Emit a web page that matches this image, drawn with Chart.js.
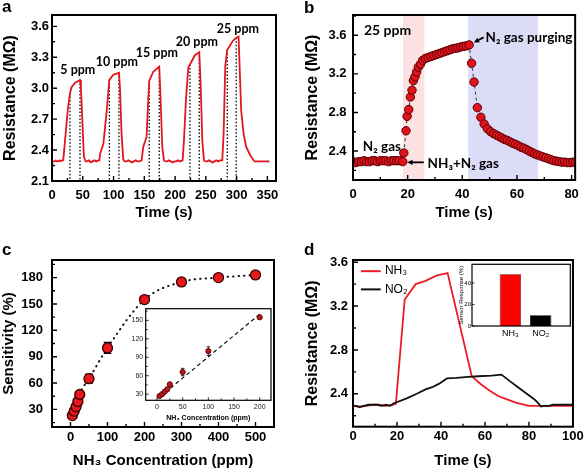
<!DOCTYPE html>
<html>
<head>
<meta charset="utf-8">
<script src="https://cdn.jsdelivr.net/npm/chart.js@4.4.0/dist/chart.umd.min.js"></script>
<style>
body { margin: 0; background: #fff; }
#fig { position: relative; width: 586px; height: 472px; overflow: hidden; background: #fff; }
#fig canvas { position: absolute; }
.letter { position: absolute; font: bold 17px 'Liberation Sans', Arial, sans-serif; line-height: 17px; }
</style>
</head>
<body>
<div id="fig">
  <canvas id="chart-a" width="293" height="236" style="left:0;top:0"></canvas>
  <canvas id="chart-b" width="293" height="236" style="left:293px;top:0"></canvas>
  <canvas id="chart-c" width="293" height="236" style="left:0;top:236px"></canvas>
  <canvas id="chart-d" width="293" height="236" style="left:293px;top:236px"></canvas>
  <canvas id="chart-c-inset" width="158" height="126" style="left:118px;top:300px"></canvas>
  <canvas id="chart-d-inset" width="120" height="88" style="left:455px;top:258px"></canvas>
  <div class="letter" style="left:2px;top:-2px">a</div>
  <div class="letter" style="left:304px;top:-1px">b</div>
  <div class="letter" style="left:2px;top:241px">c</div>
  <div class="letter" style="left:304px;top:241px">d</div>
</div>
<script>
// ---- panel a : response to 5-25 ppm NH3
const aTime = [0, 2, 4, 6, 8, 10, 12, 14, 16, 18,
  18.4, 22.2, 25.4, 29.2, 31.8, 37.2, 45.5, 47, 49, 51.8, 54.5,
  57, 60, 63, 66, 69, 72, 75, 77,
  78, 83.5, 88.9, 93.2, 99.7, 108.8, 110.4, 113, 115.8, 118,
  121, 124, 127, 130, 133, 136, 139, 142, 145.6,
  148.3, 153.7, 156.4, 158, 164.5, 174.3, 176.5, 179.2, 181.9, 184,
  187, 190, 193, 196, 199, 202, 205, 208, 212.3,
  214.5, 217.7, 221.5, 224.2, 232.3, 239.3, 241.5, 244.2, 246.9, 249,
  252, 255, 258, 261, 264, 267, 270, 273, 276.7,
  278.9, 281.6, 284.8, 294, 299.4, 303.2, 304.8, 307.5, 311.3, 315.6, 322.1, 329.1,
  335, 341, 347, 353.5];
const aRes = [2.28, 2.29, 2.29, 2.30, 2.29, 2.29, 2.30, 2.29, 2.30, 2.30,
  2.31, 2.56, 2.78, 2.95, 3.01, 3.05, 3.08, 3.00, 2.73, 2.34, 2.29,
  2.29, 2.30, 2.28, 2.29, 2.30, 2.29, 2.30, 2.30,
  2.36, 2.46, 2.78, 3.08, 3.13, 3.15, 3.01, 2.56, 2.31, 2.29,
  2.29, 2.30, 2.29, 2.28, 2.29, 2.30, 2.29, 2.29, 2.30,
  2.43, 2.53, 2.89, 3.07, 3.16, 3.21, 2.89, 2.43, 2.30, 2.29,
  2.29, 2.30, 2.29, 2.28, 2.29, 2.29, 2.30, 2.29, 2.30,
  2.50, 2.89, 3.20, 3.23, 3.32, 3.35, 3.05, 2.50, 2.30, 2.29,
  2.29, 2.30, 2.29, 2.28, 2.29, 2.30, 2.29, 2.30, 2.30,
  2.56, 3.22, 3.37, 3.46, 3.49, 3.50, 3.22, 2.78, 2.56, 2.43, 2.35, 2.29,
  2.29, 2.29, 2.29, 2.29];
const aMarkTime = [29.2, 45.5, 93.2, 108.8, 158, 174.3, 224.2, 239.3, 284.8, 299.4];
const aMarkRes = [2.95, 3.08, 3.08, 3.15, 3.07, 3.21, 3.23, 3.35, 3.37, 3.49];
const aLevels = ['5 ppm', '10 ppm', '15 ppm', '20 ppm', '25 ppm'];
const aXTicks = [0, 50, 100, 150, 200, 250, 300, 350];
const aYTicks = [2.1, 2.4, 2.7, 3.0, 3.3, 3.6];

// ---- panel b : single 25 ppm cycle
const bTime = [0, 1, 2, 3, 4, 5, 6, 7, 8, 9, 10, 11, 12, 13, 14, 15, 16, 17,
  18.2, 18.6, 19.4, 19.8, 20.4, 21, 21.6, 22.1, 22.7, 23.3, 23.9, 24.7, 25.5, 26.5,
  27.5, 28.5, 29.5, 30.5, 31.5, 32.5, 33.5, 34.5, 35.5, 36.5, 37.5, 38.5, 39.5, 40.5, 41.5, 42.5,
  43.4, 44.3, 45.5, 46.8, 48, 49.2, 50.4, 51.5, 52.5, 53.5, 54.5, 55.5, 56.5, 57.5, 58.5, 59.5,
  60.5, 61.5, 62.5, 63.5, 64.5, 65.5, 66.5, 67.5, 68.5, 69.5, 70.5, 71.5, 72.5, 73.5, 74.5,
  75.5, 76.5, 77.5, 78.5, 79.5, 80.5, 81.5];
const bRes = [2.29, 2.28, 2.29, 2.29, 2.30, 2.29, 2.29, 2.30, 2.30, 2.29, 2.30, 2.30, 2.30, 2.29, 2.30, 2.30, 2.30, 2.30,
  2.29, 2.38, 2.61, 2.76, 2.83, 2.96, 3.03, 3.13, 3.17, 3.22, 3.27, 3.30, 3.34, 3.36,
  3.37, 3.38, 3.39, 3.40, 3.41, 3.42, 3.43, 3.44, 3.45, 3.46, 3.465, 3.47, 3.48, 3.485, 3.49, 3.50,
  3.31, 3.115, 2.85, 2.75, 2.68, 2.63, 2.60, 2.58, 2.565, 2.55, 2.535, 2.52, 2.51, 2.495, 2.48, 2.47,
  2.455, 2.44, 2.43, 2.415, 2.40, 2.385, 2.37, 2.36, 2.35, 2.34, 2.33, 2.32, 2.31, 2.30, 2.295,
  2.29, 2.285, 2.285, 2.28, 2.28, 2.285, 2.285];
const bGasIn = [18.3, 26.2];     // NH3 + N2 window (s)
const bPurge = [42.1, 67.8];     // N2 purge window (s)
const bXTicks = [0, 20, 40, 60, 80];
const bYTicks = [2.4, 2.8, 3.2, 3.6];

// ---- panel c : sensitivity vs concentration
const cConc = [5, 10, 15, 20, 25, 50, 100, 200, 300, 400, 500];
const cSens = [23, 28, 33, 39, 47, 65, 100, 155, 175, 180, 183];
const cErr = [2, 2, 2, 3, 3, 5, 6, 3, 4, 2, 4];
const cInsetConc = [5, 10, 15, 20, 25, 50, 100, 200];
const cInsetSens = [27, 30, 34, 38, 46, 66, 100, 155];
const cInsetErr = [2, 2, 2, 2, 3, 6, 7, 3];
const cFitConc = [5, 200];
const cFitSens = [25, 160];
const cXTicks = [0, 100, 200, 300, 400, 500];
const cYTicks = [30, 60, 90, 120, 150, 180];
const cInsetXTicks = [0, 50, 100, 150, 200];
const cInsetYTicks = [30, 60, 90, 120, 150];

// ---- panel d : NH3 vs NO2
const dTimeNH3 = [0, 3, 6, 9, 12, 15, 18, 19.5, 23.5, 28.5, 33, 38.2, 43, 54, 58, 62, 66, 70, 74, 80, 85, 90, 95, 100];
const dNH3 = [2.29, 2.28, 2.29, 2.30, 2.30, 2.29, 2.30, 2.31, 3.26, 3.40, 3.43, 3.48, 3.50, 2.56, 2.49, 2.43, 2.38, 2.35, 2.32, 2.29, 2.29, 2.29, 2.29, 2.29];
const dTimeNO2 = [0, 1.5, 3, 5, 7, 9, 11, 13, 15, 17, 18.1, 24.7, 29, 33, 36, 39, 42.7, 47, 52.4, 57, 63, 67.5, 71, 75, 79, 82.4, 84, 85.5, 87, 89, 91, 93, 95, 97, 100];
const dNO2 = [2.29, 2.29, 2.28, 2.29, 2.30, 2.30, 2.30, 2.29, 2.30, 2.29, 2.31, 2.36, 2.40, 2.44, 2.46, 2.49, 2.54, 2.545, 2.555, 2.56, 2.565, 2.575, 2.52, 2.46, 2.40, 2.35, 2.32, 2.285, 2.29, 2.29, 2.30, 2.30, 2.30, 2.30, 2.30];
const dGas = ['NH₃', 'NO₂'];
const dResponse = [48, 10];
const dXTicks = [0, 20, 40, 60, 80, 100];
const dYTicks = [2.4, 2.8, 3.2, 3.6];
const dInsetYTicks = [0, 20, 40];

const FONT = "'Liberation Sans', Arial, sans-serif";
const NOTE = "Lato, 'Noto Sans', 'DejaVu Sans', sans-serif";
const RED = '#e4161e';

const pts = (xs, ys) => xs.map((x, i) => ({x: x, y: ys[i]}));
const fix1 = v => v.toFixed(1);

function axis(o) {
  return {
    type: 'linear', min: o.min, max: o.max, offset: false,
    grid: {display: false, drawTicks: false},
    border: {display: false},
    afterBuildTicks: s => { s.ticks = o.ticks.map(v => ({value: v})); },
    afterFit: s => { if (s.isHorizontal()) s.height = o.size; else s.width = o.size; },
    ticks: {
      autoSkip: false, maxRotation: 0, padding: o.pad, color: o.tickColor || '#000',
      font: {family: FONT, size: o.fontSize || 13, weight: o.weight || 'bold'},
      callback: o.fmt || (v => String(v))
    },
    title: {
      display: !!o.title, text: o.title, color: '#000',
      font: {family: FONT, size: o.titleSize || 15, weight: o.titleWeight || 'bold'},
      padding: {top: o.titlePad, bottom: o.titlePad}
    }
  };
}

function options(pad, x, y) {
  return {
    responsive: false, animation: false, events: [],
    layout: {padding: pad},
    plugins: {legend: {display: false}, tooltip: {enabled: false}},
    scales: {x: x, y: y}
  };
}

// frame box + inward ticks
function frame(cfg) {
  return {
    id: 'frame',
    beforeDatasetsDraw(chart) {
      if (!cfg.fill) return;
      const a = chart.chartArea, ctx = chart.ctx;
      ctx.save();
      ctx.fillStyle = cfg.fill;
      ctx.fillRect(a.left, a.top, a.right - a.left, a.bottom - a.top);
      ctx.restore();
    },
    afterDraw(chart) {
      const a = chart.chartArea, ctx = chart.ctx;
      ctx.save();
      ctx.strokeStyle = '#000';
      ctx.lineWidth = cfg.tickWidth || 1.4;
      ctx.beginPath();
      const doAxis = (scale, horiz, minor) => {
        const vals = scale.ticks.map(t => t.value);
        const mark = (v, len) => {
          const p = scale.getPixelForValue(v);
          if (horiz) { ctx.moveTo(p, a.bottom); ctx.lineTo(p, a.bottom - len); }
          else { ctx.moveTo(a.left, p); ctx.lineTo(a.left + len, p); }
        };
        vals.forEach(v => mark(v, cfg.major));
        if (minor && vals.length > 1) {
          const step = vals[1] - vals[0];
          for (let v = vals[0] - step / 2; v <= scale.max + 1e-9; v += step) {
            if (v >= scale.min - 1e-9) mark(v, cfg.minor);
          }
        }
      };
      if (cfg.xTicks !== false) doAxis(chart.scales.x, true, cfg.minorX !== false);
      doAxis(chart.scales.y, false, cfg.minorY !== false);
      ctx.stroke();
      ctx.lineWidth = cfg.width;
      ctx.strokeRect(a.left, a.top, a.right - a.left, a.bottom - a.top);
      ctx.restore();
    }
  };
}

// texts, arrows and legend keys placed in data coordinates
function notes(cfg) {
  return {
    id: 'notes',
    afterDraw(chart) {
      const ctx = chart.ctx, x = chart.scales.x, y = chart.scales.y;
      ctx.save();
      (cfg.lines || []).forEach(l => {
        ctx.strokeStyle = l.color; ctx.lineWidth = l.width;
        ctx.beginPath();
        ctx.moveTo(x.getPixelForValue(l.x1), y.getPixelForValue(l.y));
        ctx.lineTo(x.getPixelForValue(l.x2), y.getPixelForValue(l.y));
        ctx.stroke();
      });
      (cfg.arrows || []).forEach(r => {
        const x1 = x.getPixelForValue(r.x1), y1 = y.getPixelForValue(r.y1);
        const x2 = x.getPixelForValue(r.x2), y2 = y.getPixelForValue(r.y2);
        const ang = Math.atan2(y2 - y1, x2 - x1), h = 6;
        ctx.strokeStyle = '#000'; ctx.fillStyle = '#000'; ctx.lineWidth = 1.8;
        ctx.beginPath();
        ctx.moveTo(x1, y1);
        ctx.lineTo(x2 - Math.cos(ang) * h * 0.8, y2 - Math.sin(ang) * h * 0.8);
        ctx.stroke();
        ctx.beginPath();
        ctx.moveTo(x2, y2);
        ctx.lineTo(x2 - h * Math.cos(ang - 0.45), y2 - h * Math.sin(ang - 0.45));
        ctx.lineTo(x2 - h * Math.cos(ang + 0.45), y2 - h * Math.sin(ang + 0.45));
        ctx.closePath();
        ctx.fill();
      });
      (cfg.texts || []).forEach(t => {
        ctx.font = t.font; ctx.fillStyle = '#000';
        ctx.textAlign = t.align || 'left'; ctx.textBaseline = 'middle';
        ctx.fillText(t.text, x.getPixelForValue(t.x), y.getPixelForValue(t.y));
      });
      ctx.restore();
    }
  };
}

function errorBars(index, errs, cap, width) {
  return {
    id: 'errorBars',
    beforeDatasetsDraw(chart) {
      const ctx = chart.ctx, x = chart.scales.x, y = chart.scales.y;
      const data = chart.data.datasets[index].data;
      ctx.save();
      ctx.strokeStyle = '#000'; ctx.lineWidth = width;
      ctx.beginPath();
      data.forEach((p, i) => {
        const px = x.getPixelForValue(p.x);
        const top = y.getPixelForValue(p.y + errs[i]), bot = y.getPixelForValue(p.y - errs[i]);
        ctx.moveTo(px, top); ctx.lineTo(px, bot);
        ctx.moveTo(px - cap, top); ctx.lineTo(px + cap, top);
        ctx.moveTo(px - cap, bot); ctx.lineTo(px + cap, bot);
      });
      ctx.stroke();
      ctx.restore();
    }
  };
}

// ---------- a
const markPts = [];
aMarkTime.forEach((t, i) => {
  markPts.push({x: t, y: aMarkRes[i]}, {x: t, y: 2.1}, {x: t, y: null});
});
new Chart(document.getElementById('chart-a'), {
  type: 'scatter',
  data: {datasets: [
    {data: pts(aTime, aRes), showLine: true, borderColor: RED, borderWidth: 1.8, pointRadius: 0, order: 0},
    {data: markPts, showLine: true, spanGaps: false, borderColor: '#000', borderWidth: 1.3, borderDash: [1.5, 2], pointRadius: 0, order: 1}
  ]},
  options: options({left: 0, top: 15, right: 17, bottom: 0},
    axis({min: 0, max: 364, ticks: aXTicks, size: 55, pad: 6.5, title: 'Time (s)', titlePad: 14}),
    axis({min: 2.1, max: 3.71, ticks: aYTicks, size: 52, pad: 3, fmt: fix1, title: 'Resistance (MΩ)', titleSize: 16, titlePad: 1})),
  plugins: [frame({width: 2, major: 5, minor: 3}), notes({texts: [
    {text: aLevels[0], x: 42, y: 3.175, align: 'center', font: 'bold 12.5px ' + NOTE},
    {text: aLevels[1], x: 105.5, y: 3.25, align: 'center', font: 'bold 12.5px ' + NOTE},
    {text: aLevels[2], x: 170.5, y: 3.34, align: 'center', font: 'bold 12.5px ' + NOTE},
    {text: aLevels[3], x: 235.5, y: 3.445, align: 'center', font: 'bold 12.5px ' + NOTE},
    {text: aLevels[4], x: 302, y: 3.57, align: 'center', font: 'bold 12.5px ' + NOTE}
  ]})]
});

// ---------- b
const bTop = 3.81;
new Chart(document.getElementById('chart-b'), {
  type: 'scatter',
  data: {datasets: [
    {data: pts(bTime, bRes), showLine: true, borderColor: '#333', borderWidth: 1, borderDash: [3, 3],
     pointRadius: 4.2, pointBackgroundColor: '#e0141c', pointBorderColor: '#5b0000', pointBorderWidth: 1, order: 0},
    {data: pts(bGasIn, [bTop, bTop]), showLine: true, fill: 'start', backgroundColor: '#fbe1e1', borderWidth: 0, pointRadius: 0, order: 10},
    {data: pts(bPurge, [bTop, bTop]), showLine: true, fill: 'start', backgroundColor: '#dddcf7', borderWidth: 0, pointRadius: 0, order: 10}
  ]},
  options: options({left: 0, top: 15, right: 10, bottom: 0},
    axis({min: 0, max: 81.3, ticks: bXTicks, size: 56, pad: 7, title: 'Time (s)', titlePad: 14}),
    axis({min: 2.1, max: bTop, ticks: bYTicks, size: 60, pad: 6.5, fmt: fix1, title: 'Resistance (MΩ)', titleSize: 16, titlePad: 10})),
  plugins: [frame({width: 2, major: 5, minor: 3}), notes({
    texts: [
      {text: '25 ppm', x: 4.0, y: 3.651, font: 'bold 14px ' + NOTE},
      {text: 'N₂ gas purging', x: 48.5, y: 3.58, font: 'bold 13.5px ' + NOTE},
      {text: 'N₂ gas', x: 3.6, y: 2.441, font: 'bold 13.5px ' + NOTE},
      {text: 'NH₃+N₂ gas', x: 27.3, y: 2.272, font: 'bold 13.5px ' + NOTE}
    ],
    arrows: [
      {x1: 47.8, y1: 3.578, x2: 44.2, y2: 3.525},
      {x1: 25.9, y1: 2.283, x2: 19.8, y2: 2.283}
    ]
  })]
});

// ---------- c
new Chart(document.getElementById('chart-c'), {
  type: 'scatter',
  data: {datasets: [
    {data: pts(cConc, cSens), showLine: true, cubicInterpolationMode: 'monotone',
     borderColor: '#111', borderWidth: 2, borderDash: [0.5, 5], borderCapStyle: 'round',
     pointRadius: 5, pointBackgroundColor: '#e8161d', pointBorderColor: '#3a0000', pointBorderWidth: 1.3}
  ]},
  options: options({left: 0, top: 24, right: 19, bottom: 0},
    axis({min: -50, max: 550, ticks: cXTicks, size: 45, pad: 2.6, title: 'NH₃ Concentration (ppm)', titlePad: 2}),
    axis({min: 10, max: 200, ticks: cYTicks, size: 52, pad: 9, title: 'Sensitivity (%)', titlePad: 0})),
  plugins: [frame({width: 2, major: 5, minor: 3}), errorBars(0, cErr, 3.8, 1.5)]
});

new Chart(document.getElementById('chart-c-inset'), {
  type: 'scatter',
  data: {datasets: [
    {data: pts(cInsetConc, cInsetSens), showLine: false,
     pointRadius: 2.6, pointBackgroundColor: '#c0151b', pointBorderColor: '#5a0a0a', pointBorderWidth: 1, order: 0},
    {data: pts(cFitConc, cFitSens), showLine: true, borderColor: '#111', borderWidth: 1.2, borderDash: [4, 3], pointRadius: 0, order: 1}
  ]},
  options: options({left: 0, top: 8.7, right: 4.3, bottom: 0},
    axis({min: -22, max: 222, ticks: cInsetXTicks, size: 25.7, pad: 3, fontSize: 7, weight: 'normal', tickColor: '#222',
          title: 'NH₃ Concentration (ppm)', titleSize: 7, titlePad: 4}),
    axis({min: 20, max: 169, ticks: cInsetYTicks, size: 27.7, pad: 2.5, fontSize: 7, weight: 'normal', tickColor: '#222'})),
  plugins: [frame({width: 1.2, major: 3, minor: 2, tickWidth: 0.8, fill: '#fff'}), errorBars(0, cInsetErr, 1.8, 0.8)]
});

// ---------- d
new Chart(document.getElementById('chart-d'), {
  type: 'scatter',
  data: {datasets: [
    {data: pts(dTimeNH3, dNH3), showLine: true, borderColor: '#ee1c24', borderWidth: 1.8, pointRadius: 0, order: 1},
    {data: pts(dTimeNO2, dNO2), showLine: true, borderColor: '#111', borderWidth: 1.8, pointRadius: 0, order: 0}
  ]},
  options: options({left: 0, top: 24, right: 10.5, bottom: 0},
    axis({min: 0, max: 100, ticks: dXTicks, size: 45.3, pad: 2.2, title: 'Time (s)', titlePad: 2}),
    axis({min: 2.1, max: 3.62, ticks: dYTicks, size: 60, pad: 5, fmt: fix1, title: 'Resistance (MΩ)', titleSize: 16, titlePad: 10})),
  plugins: [frame({width: 2, major: 5, minor: 3}), notes({
    lines: [
      {x1: 3.6, x2: 12.6, y: 3.518, color: '#ee1c24', width: 2},
      {x1: 3.6, x2: 12.6, y: 3.352, color: '#111', width: 2}
    ],
    texts: [
      {text: dGas[0], x: 14.5, y: 3.518, font: '12px ' + FONT},
      {text: dGas[1], x: 14.5, y: 3.352, font: '12px ' + FONT}
    ]
  })]
});

new Chart(document.getElementById('chart-d-inset'), {
  type: 'bar',
  data: {datasets: [
    {data: pts([1, 2], dResponse), backgroundColor: ['#ff0000', '#000'], borderColor: ['#600', '#000'], borderWidth: 0.8,
     barPercentage: 0.71, categoryPercentage: 1}
  ]},
  options: options({left: 0, top: 6.3, right: 4.7, bottom: 0},
    axis({min: -0.27, max: 2.98, ticks: [1, 2], size: 20, pad: 2, fontSize: 9, weight: 'normal', fmt: v => dGas[v - 1]}),
    axis({min: 0, max: 57.3, ticks: dInsetYTicks, size: 17, pad: 1, fontSize: 6, weight: 'normal',
          title: 'Sensor Response (%)', titleSize: 6, titleWeight: 'normal', titlePad: 3})),
  plugins: [frame({width: 1.2, major: 2.5, minor: 1.5, tickWidth: 0.8, xTicks: false, minorY: false, fill: '#fff'})]
});
</script>
</body>
</html>
